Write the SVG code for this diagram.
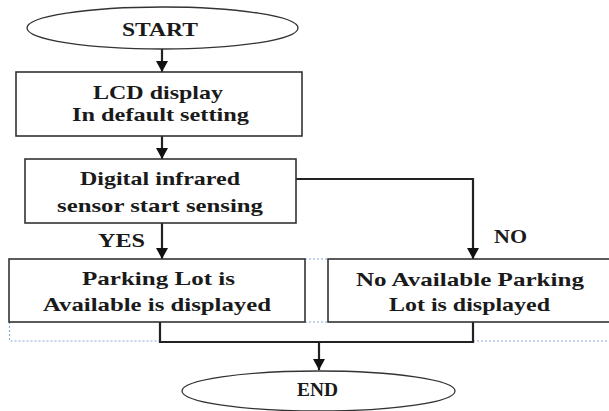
<svg xmlns="http://www.w3.org/2000/svg" width="609" height="411" viewBox="0 0 609 411">
<style>
.box{fill:#fff;stroke:#333;stroke-width:1.6}
.term{fill:#fff;stroke:#333;stroke-width:1.3}
.t{font-family:"Liberation Serif","Times New Roman",serif;font-weight:bold;font-size:19px;fill:#1a1a1a}
.c{fill:none;stroke:#222;stroke-width:2.2}
.d{fill:none;stroke:#8aaad8;stroke-width:1.2;stroke-dasharray:2 2}
</style>
<defs>
<marker id="ah" markerUnits="userSpaceOnUse" markerWidth="12" markerHeight="12" refX="11" refY="6" orient="auto">
<path d="M0,0 L11,6 L0,12 z" fill="#111"/>
</marker>
</defs>
<rect width="609" height="411" fill="#fff"/>
<g id="decor">
<path class="d" d="M305,259 H328 M305,322 H328 M9.5,322 V341 H160 M473,341 H609"/>
</g>
<g id="connectors">
<line class="c" x1="162" y1="49" x2="162" y2="72" marker-end="url(#ah)"/>
<line class="c" x1="162" y1="136" x2="162" y2="159" marker-end="url(#ah)"/>
<line class="c" x1="162" y1="223" x2="162" y2="259" marker-end="url(#ah)"/>
<polyline class="c" points="296,179 473,179 473,259" marker-end="url(#ah)"/>
<polyline class="c" points="160,322 160,342 473,342 473,322"/>
<line class="c" x1="319" y1="342" x2="319" y2="370" marker-end="url(#ah)"/>
<text class="t" x="98" y="247" textLength="47" lengthAdjust="spacingAndGlyphs">YES</text>
<text class="t" x="494" y="243" textLength="33" lengthAdjust="spacingAndGlyphs">NO</text>
</g>
<g id="start">
<ellipse class="term" cx="162.5" cy="28" rx="135.5" ry="21"/>
<text class="t" x="122" y="36" textLength="76" lengthAdjust="spacingAndGlyphs">START</text>
</g>
<g id="lcd">
<rect class="box" x="16" y="72" width="286" height="64"/>
<text class="t" x="93" y="99" textLength="130" lengthAdjust="spacingAndGlyphs">LCD  display</text>
<text class="t" x="72" y="121" textLength="177" lengthAdjust="spacingAndGlyphs">In default setting</text>
</g>
<g id="sensor">
<rect class="box" x="25" y="159" width="271" height="64"/>
<text class="t" x="80" y="185" textLength="160" lengthAdjust="spacingAndGlyphs">Digital infrared</text>
<text class="t" x="57" y="212" textLength="206" lengthAdjust="spacingAndGlyphs">sensor start sensing</text>
</g>
<g id="available">
<rect class="box" x="9" y="259" width="296" height="63"/>
<text class="t" x="82" y="285" textLength="153" lengthAdjust="spacingAndGlyphs">Parking Lot is</text>
<text class="t" x="43" y="311" textLength="228" lengthAdjust="spacingAndGlyphs">Available is displayed</text>
</g>
<g id="unavailable">
<rect class="box" x="328" y="259" width="290" height="63"/>
<text class="t" x="356" y="286" textLength="228" lengthAdjust="spacingAndGlyphs">No Available Parking</text>
<text class="t" x="389" y="311" textLength="161" lengthAdjust="spacingAndGlyphs">Lot is displayed</text>
</g>
<g id="end">
<ellipse class="term" cx="318.5" cy="391" rx="136.5" ry="20"/>
<text class="t" x="297" y="396" textLength="41" lengthAdjust="spacingAndGlyphs">END</text>
</g>
</svg>
